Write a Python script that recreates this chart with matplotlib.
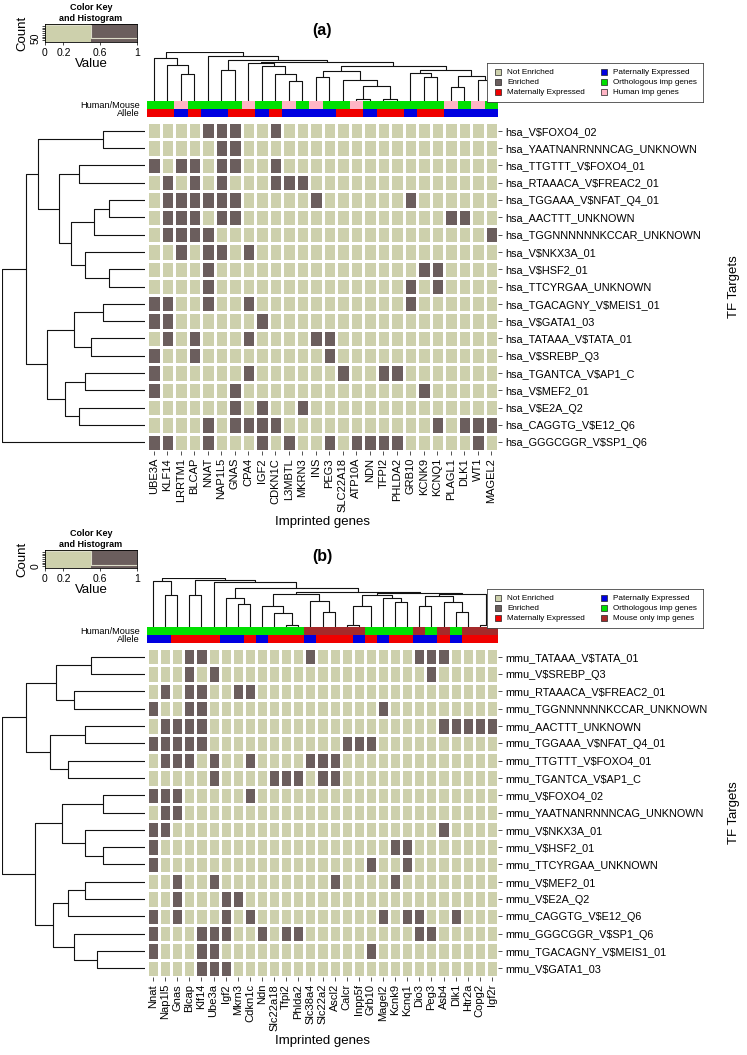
import matplotlib
matplotlib.use("Agg")
import matplotlib.pyplot as plt
import numpy as np
from matplotlib.colors import ListedColormap
from matplotlib.patches import Rectangle

plt.rcParams['font.family'] = ['Liberation Sans', 'DejaVu Sans']

# ---------------- data: panel (a) ----------------
genes_a = ["UBE3A", "KLF14", "LRRTM1", "BLCAP", "NNAT", "NAP1L5", "GNAS", "CPA4", "IGF2",
           "CDKN1C", "L3MBTL", "MKRN3", "INS", "PEG3", "SLC22A18", "ATP10A", "NDN", "TFPI2",
           "PHLDA2", "GRB10", "KCNK9", "KCNQ1", "PLAGL1", "DLK1", "WT1", "MAGEL2"]
targets_a = ["hsa_V$FOXO4_02", "hsa_YAATNANRNNNCAG_UNKNOWN", "hsa_TTGTTT_V$FOXO4_01",
             "hsa_RTAAACA_V$FREAC2_01", "hsa_TGGAAA_V$NFAT_Q4_01", "hsa_AACTTT_UNKNOWN",
             "hsa_TGGNNNNNNKCCAR_UNKNOWN", "hsa_V$NKX3A_01", "hsa_V$HSF2_01",
             "hsa_TTCYRGAA_UNKNOWN", "hsa_TGACAGNY_V$MEIS1_01", "hsa_V$GATA1_03",
             "hsa_TATAAA_V$TATA_01", "hsa_V$SREBP_Q3", "hsa_TGANTCA_V$AP1_C", "hsa_V$MEF2_01",
             "hsa_V$E2A_Q2", "hsa_CAGGTG_V$E12_Q6", "hsa_GGGCGGR_V$SP1_Q6"]
# enriched gene indices per target row
enriched_a = [[4, 5, 6, 9], [5, 6], [0, 2, 3, 5, 6, 9], [1, 3, 5, 9, 10, 11],
              [1, 2, 3, 4, 5, 6, 12, 19], [1, 2, 3, 5, 6, 22, 23], [1, 2, 3, 4, 25],
              [2, 4, 5, 7], [4, 20, 21], [4, 19, 21], [0, 1, 4, 7, 19], [0, 1, 8],
              [1, 3, 7, 12, 13], [0, 3, 13], [0, 7, 14, 17, 18], [0, 6, 20], [6, 8, 11],
              [4, 6, 7, 8, 9, 21, 23, 24, 25], [0, 1, 4, 8, 10, 13, 15, 16, 17, 18, 24]]
# Human/Mouse: O = orthologous, H = human only ; Allele: M maternal, P paternal
species_a = "OOHOOOOHOOHOHOOHOOOOOOHOHO"
allele_a = "MMPMPPMMPMPPPPMMPMMPMMPPPP"
# column dendrogram: [left, right, merge height]
ca_A = [0, [1, [2, 3, 27], 35.3], 42.7]
ca_711 = [7, [8, [9, [10, 11, 19.3], 27], 34.3], 37]
ca_1218 = [[12, 13, 23.7], [14, [[15, 16, 1.7], [17, 18, 1.7], 15], 21], 29.3]
ca_1925 = [[19, [20, 21, 23.7], 28], [[22, 23, 13.7], [24, 25, 21], 25], 31]
ca_C = [ca_711, [ca_1218, ca_1925, 34.3], 38.3]
coltree_a = [ca_A, [4, [[5, 6, 31], ca_C, 40], 44.3], 48.3]
# row dendrogram
ra_T = [[0, 1, 14], [[2, 3, 22], [[[4, 5, 12], 6, 17], [7, [8, 9, 12], 20], 25], 29], 36]
ra_M = [[[10, 11, 14], [12, 13, 18], 24], [[14, 15, 20], [16, 17, 22], 27], 33]
rowtree_a = [[ra_T, ra_M, 40], 18, 48]

# ---------------- data: panel (b) ----------------
genes_b = ["Nnat", "Nap1l5", "Gnas", "Blcap", "Klf14", "Ube3a", "Igf2", "Mkrn3", "Cdkn1c",
           "Ndn", "Slc22a18", "Tfpi2", "Phlda2", "Slc38a4", "Slc22a2", "Ascl2", "Calcr",
           "Inpp5f", "Grb10", "Magel2", "Kcnk9", "Kcnq1", "Dio3", "Peg3", "Asb4", "Dlk1",
           "Htr2a", "Copg2", "Igf2r"]
targets_b = ["mmu_TATAAA_V$TATA_01", "mmu_V$SREBP_Q3", "mmu_RTAAACA_V$FREAC2_01",
             "mmu_TGGNNNNNNKCCAR_UNKNOWN", "mmu_AACTTT_UNKNOWN", "mmu_TGGAAA_V$NFAT_Q4_01",
             "mmu_TTGTTT_V$FOXO4_01", "mmu_TGANTCA_V$AP1_C", "mmu_V$FOXO4_02",
             "mmu_YAATNANRNNNCAG_UNKNOWN", "mmu_V$NKX3A_01", "mmu_V$HSF2_01",
             "mmu_TTCYRGAA_UNKNOWN", "mmu_V$MEF2_01", "mmu_V$E2A_Q2", "mmu_CAGGTG_V$E12_Q6",
             "mmu_GGGCGGR_V$SP1_Q6", "mmu_TGACAGNY_V$MEIS1_01", "mmu_V$GATA1_03"]
enriched_b = [[3, 4, 13, 22, 23, 24], [3, 5, 23], [1, 3, 4, 7, 8], [0, 3, 4, 19],
              [1, 2, 3, 4, 24, 25, 26, 27, 28], [0, 1, 2, 3, 4, 16, 17, 18],
              [1, 2, 3, 5, 8, 13, 14, 15], [5, 10, 11, 12, 14, 15], [0, 1, 2, 8], [1, 2],
              [0, 1, 24], [0, 20, 21], [0, 18, 21], [2, 5, 15, 20], [2, 6, 7],
              [0, 2, 6, 8, 19, 21, 22, 25], [0, 4, 5, 6, 9, 11, 12, 22, 23], [0, 4, 5, 18],
              [4, 5, 6]]
# O = orthologous, X = mouse only
species_b = "OOOOOOOOOOOOOXXXXXOOOOXOXOXXX"
allele_b = "PPMMMMPPMPMMMPMMMPMPMMPPMPMMM"
cb_A = [0, [1, 2, 31], 44.5]
cb_Y1 = [6, [7, 8, 22], 28]
cb_Y2a = [[9, [10, [11, 12, 2], 13.7], 20.3], [13, [14, 15, 14.7], 24.7], 32]
cb_L = [[[16, 17, 2], 18, 20.3], [19, [20, 21, 23.7], 28], 30.3]
cb_R = [[[22, 23, 20.3], [24, [25, 26, 14.7], 23.7], 29.5], [27, 28, 2], 31.3]
cb_Y = [cb_Y1, [cb_Y2a, [cb_L, cb_R, 32.7], 33.7], 37]
coltree_b = [cb_A, [[3, 4, 31], [5, cb_Y, 42.7], 44.9], 47]
rb_T = [[[0, 1, 18], [2, 3, 24], 30], [[4, 5, 20], [6, 7, 26], 32], 40]
rb_M = [[[8, 9, 14], [10, [11, 12, 14], 20], 28], [[[13, 14, 20], 15, 26], [16, [17, 18, 16], 24], 31], 37]
rowtree_b = [rb_T, rb_M, 48]

# ---------------- style ----------------
C_NOT = "#CDD0AC"
C_ENR = "#6B5E5D"
C_GREEN = "#00E000"
C_RED = "#F00000"
C_BLUE = "#0000E0"
C_PINK = "#FFB5C5"
C_BROWN = "#A52A2A"
W, H = 747, 1055
fig = plt.figure(figsize=(W / 100, H / 100), dpi=100)


def ax_px(x0, y0, x1, y1, z=1):
    ax = fig.add_axes([x0 / W, 1 - y1 / H, (x1 - x0) / W, (y1 - y0) / H])
    ax.set_zorder(z)
    return ax


def clean(ax):
    ax.set_xticks([])
    ax.set_yticks([])
    for s in ax.spines.values():
        s.set_visible(False)
    ax.patch.set_alpha(0)


def tree_max(node):
    if isinstance(node, int):
        return 0
    return max(node[2], tree_max(node[0]), tree_max(node[1]))


def draw_tree(ax, node, orient):
    if isinstance(node, int):
        return node + 0.5, 0.0
    l, r, h = node
    pl, hl = draw_tree(ax, l, orient)
    pr, hr = draw_tree(ax, r, orient)
    xs = [pl, pl, pr, pr]
    ys = [hl, h, h, hr]
    if orient == "top":
        ax.plot(xs, ys, color="#111111", lw=0.8, solid_capstyle="butt")
    else:
        ax.plot(ys, xs, color="#111111", lw=0.8, solid_capstyle="butt")
    return (pl + pr) / 2, h


def panel(genes, targets, enriched, species, allele, coltree, rowtree, top, title, legend_items, ylab):
    nr, nc = len(targets), len(genes)
    hx0, hx1 = 147, 498
    hy0 = top + 122
    hy1 = hy0 + 329
    mat = np.zeros((nr, nc))
    for i, cols in enumerate(enriched):
        mat[i, cols] = 1
    ax = ax_px(hx0, hy0, hx1, hy1)
    ax.pcolormesh(np.arange(nc + 1), np.arange(nr + 1), mat, cmap=ListedColormap([C_NOT, C_ENR]),
                  vmin=0, vmax=1, edgecolors="white", linewidth=0.8)
    ax.set_xlim(0, nc)
    ax.set_ylim(nr, 0)
    ax.set_xticks(np.arange(nc) + 0.5)
    ax.set_xticklabels(genes, rotation=90, fontsize=8)
    ax.yaxis.tick_right()
    ax.set_yticks(np.arange(nr) + 0.5)
    ax.set_yticklabels(targets, fontsize=7.8)
    ax.tick_params(length=3, width=0.6, pad=2, color="#333333")
    for s in ax.spines.values():
        s.set_visible(False)
    ax.set_xlabel("Imprinted genes", fontsize=9.5, labelpad=3)
    fig.text(734 / W, 1 - (hy0 + hy1) / 2 / H, "TF Targets", rotation=90, ha="center",
             va="center", fontsize=9.5)

    # side colour bars
    sp_col = {"O": C_GREEN, "H": C_PINK, "X": C_BROWN}
    al_col = {"M": C_RED, "P": C_BLUE}
    cb = ax_px(hx0, top + 101, hx1, top + 117)
    for j in range(nc):
        cb.add_patch(Rectangle((j, 0), 1, 1, color=sp_col[species[j]], lw=0))
        cb.add_patch(Rectangle((j, 1), 1, 1, color=al_col[allele[j]], lw=0))
    cb.set_xlim(0, nc)
    cb.set_ylim(2, 0)
    clean(cb)
    fig.text(140 / W, 1 - (top + 106) / H, "Human/Mouse", ha="right", va="center", fontsize=6.6)
    fig.text(140 / W, 1 - (top + 114) / H, "Allele", ha="right", va="center", fontsize=6.6)

    # column dendrogram
    dc = ax_px(hx0, top + 52, hx1, top + 101)
    draw_tree(dc, coltree, "top")
    dc.set_xlim(0, nc)
    dc.set_ylim(0, tree_max(coltree))
    clean(dc)

    # row dendrogram
    dr = ax_px(2, hy0, 145, hy1)
    draw_tree(dr, rowtree, "left")
    dr.set_ylim(nr, 0)
    dr.set_xlim(tree_max(rowtree), 0)
    clean(dr)

    fig.text(322 / W, 1 - (top + 31) / H, title, ha="center", va="center", fontsize=11.5, fontweight="bold")

    # legend box
    lg = ax_px(487, top + 63, 703, top + 102, z=5)
    lg.set_xlim(487, 703)
    lg.set_ylim(top + 102, top + 63)
    clean(lg)
    lg.patch.set_alpha(1)
    lg.patch.set_facecolor("white")
    for s in lg.spines.values():
        s.set_visible(True)
        s.set_linewidth(0.6)
        s.set_color("#444444")
    for k, (lab, col) in enumerate(legend_items):
        cx = 495 if k < 3 else 601
        cy = top + 72 + 10 * (k % 3)
        lg.add_patch(Rectangle((cx, cy - 3), 6, 6, facecolor=col, edgecolor="#222222", lw=0.5))
        lg.text(cx + 12, cy, lab, fontsize=5.9, va="center", ha="left")

    # colour key with histogram
    ck = ax_px(45, top + 24, 137, top + 42)
    ck.imshow([[0, 1]], extent=[0, 1, 0, 1], cmap=ListedColormap([C_NOT, C_ENR]), aspect="auto")
    hist_y = [0.97, 0.97, 0.2, 0.2] if ylab == "50" else [0.97, 0.97, 0.15, 0.15]
    ck.plot([0, 0.5, 0.5, 1], hist_y, color="#DCDCC8", lw=0.8)
    ck.set_xlim(0, 1)
    ck.set_ylim(0, 1)
    ck.set_xticks([0, 0.2, 0.6, 1])
    ck.set_xticklabels(["0", "0.2", "0.6", "1"], fontsize=7.5)
    yt = np.linspace(0.1, 0.9, 9)
    ck.set_yticks(yt)
    ck.set_yticklabels(["" if i != 1 else ylab for i in range(9)] if ylab == "50"
                       else ["" if i != 0 else ylab for i in range(9)], fontsize=7.5, rotation=90, va="center")
    ck.tick_params(axis="y", length=2.5, width=0.5, pad=1)
    ck.tick_params(axis="x", length=2.5, width=0.5, pad=2)
    ck.set_xlabel("Value", fontsize=9.5, labelpad=0)
    ck.set_ylabel("Count", fontsize=9.5, labelpad=1)
    ck.set_title("Color Key\nand Histogram", fontsize=6.5, fontweight="bold", pad=2, linespacing=1.3)
    for s in ck.spines.values():
        s.set_linewidth(0.6)


legend_a = [("Not Enriched", C_NOT), ("Enriched", C_ENR), ("Maternally Expressed", C_RED),
            ("Paternally Expressed", C_BLUE), ("Orthologous imp genes", C_GREEN), ("Human imp genes", C_PINK)]
legend_b = [("Not Enriched", C_NOT), ("Enriched", C_ENR), ("Maternally Expressed", C_RED),
            ("Paternally Expressed", C_BLUE), ("Orthologous imp genes", C_GREEN), ("Mouse only imp genes", C_BROWN)]

panel(genes_a, targets_a, enriched_a, species_a, allele_a, coltree_a, rowtree_a, 0, "(a)", legend_a, "50")
panel(genes_b, targets_b, enriched_b, species_b, allele_b, coltree_b, rowtree_b, 526, "(b)", legend_b, "0")

fig.savefig("out.png", dpi=100)
